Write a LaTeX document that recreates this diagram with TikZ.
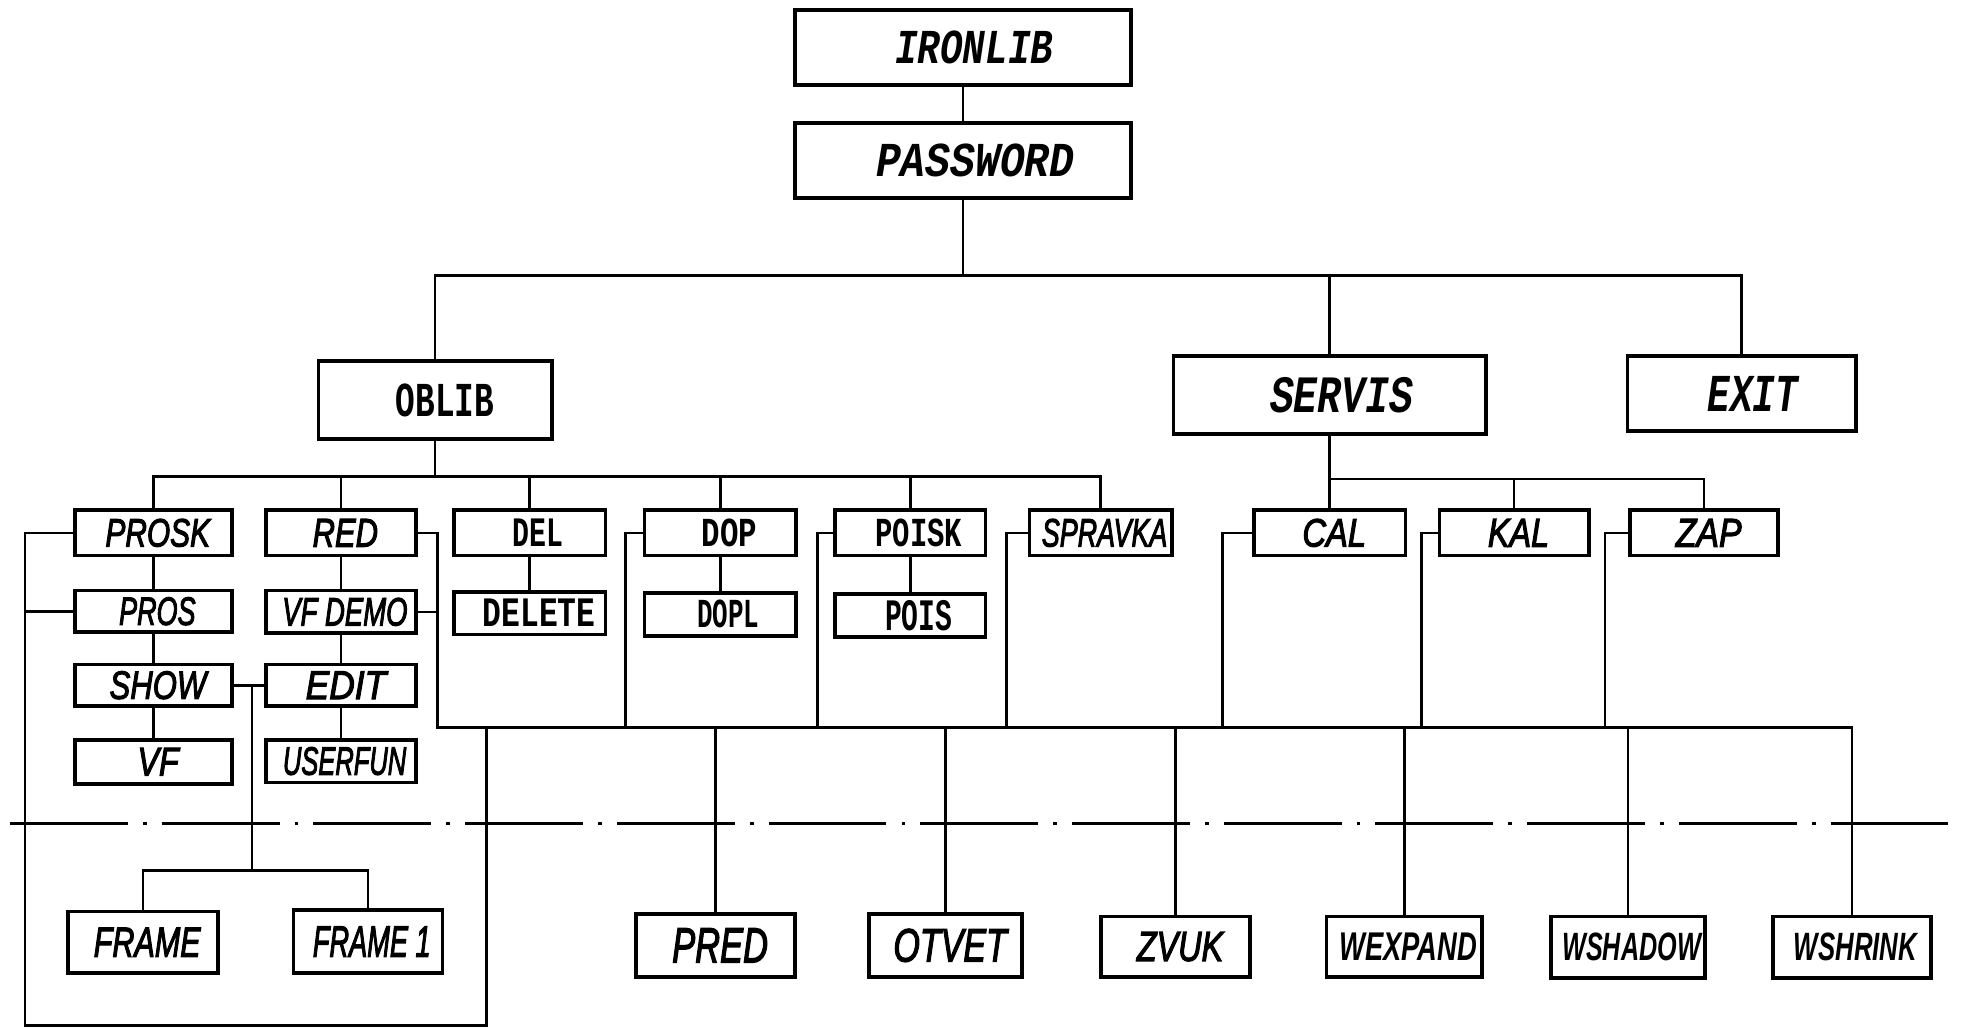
\documentclass[tikz,border=0pt]{standalone}
\usepackage{fontspec}
\setmainfont{Liberation Sans}
\newfontfamily\twf{Liberation Mono}
\newfontfamily\hndf{Liberation Sans Italic}[FakeBold=3]
\usepackage{graphicx}
\tikzset{
 box/.style={draw, line width=3pt, inner sep=0pt, rectangle},
 ln/.style={line width=2.2pt, line join=miter, line cap=rect},
 dashdot/.style={line width=2.6pt, dash pattern=on 94pt off 12pt on 3pt off 12pt},
}
\newcommand\hnd{\hndf}
\newcommand\typ{\twf\bfseries}
\newcommand\styp{\twf\bfseries\itshape}
\newcommand\bx[9]{\node[box, minimum width={#4-#2}, minimum height={#5-#3}] (#1) at ({(#2+#4)/2},{(#3+#5)/2}) {\resizebox{#6pt}{#7pt}{#8 #9}};}
\begin{document}
\begin{tikzpicture}[x=1pt,y=-1pt]
\useasboundingbox (0,0) rectangle (1568,820);
% top level
\bx{IRONLIB}{634}{8}{902}{68}{144}{26}{\styp}{IRONLIB}
\bx{PASSWORD}{634}{98}{902}{158}{178}{26}{\styp}{PASSWORD}
\bx{OBLIB}{254}{288}{440}{350}{94}{26}{\typ}{OBLIB}
\bx{SERVIS}{936}{284}{1185}{346}{133}{28}{\styp}{SERVIS}
\bx{EXIT}{1298}{284}{1480}{344}{90}{28}{\styp}{EXIT}
% row 1
\bx{PROSK}{60}{407}{185}{443}{90}{22}{\hnd}{PROSK}
\bx{RED}{212}{407}{332}{443}{59}{22}{\hnd}{RED}
\bx{DEL}{362}{407}{483}{443}{54}{22}{\typ}{DEL}
\bx{DOP}{514}{407}{635}{443}{59}{22}{\typ}{DOP}
\bx{POISK}{666}{407}{786}{443}{83}{22}{\typ}{POISK}
\bx{SPRAVKA}{821}{407}{935}{443}{106}{22}{\hnd}{SPRAVKA}
\bx{CAL}{1000}{407}{1121}{443}{58}{22}{\hnd}{CAL}
\bx{KAL}{1148}{407}{1267}{443}{56}{22}{\hnd}{KAL}
\bx{ZAP}{1300}{407}{1418}{443}{60}{22}{\hnd}{ZAP}
% row 2
\bx{PROS}{60}{471}{185}{504}{67}{22}{\hnd}{PROS}
\bx{VFDEMO}{212}{471}{332}{505}{106}{22}{\hnd}{VF DEMO}
\bx{DELETE}{362}{472}{483}{506}{105}{22}{\typ}{DELETE}
\bx{DOPL}{514}{473}{635}{507}{62}{22}{\typ}{DOPL}
\bx{POIS}{666}{474}{786}{508}{67}{24}{\typ}{POIS}
% row 3
\bx{SHOW}{60}{530}{185}{563}{84}{22}{\hnd}{SHOW}
\bx{EDIT}{212}{530}{332}{563}{72}{22}{\hnd}{EDIT}
% row 4
\bx{VF}{60}{590}{185}{625}{40}{22}{\hnd}{VF}
\bx{USERFUN}{212}{590}{332}{624}{104}{22}{\hnd}{USERFUN}
% bottom row
\bx{FRAME}{54}{727}{174}{776}{92}{23}{\hnd}{FRAME}
\bx{FRAMEA}{234}{726}{353}{776}{100}{24}{\hnd}{FRAME 1}
\bx{PRED}{507}{729}{634}{779}{84}{27}{\hnd}{PRED}
\bx{OTVET}{693}{729}{815}{779}{98}{26}{\hnd}{OTVET}
\bx{ZVUK}{878}{731}{997}{779}{76}{23}{\hnd}{ZVUK}
\bx{WEXPAND}{1058}{731}{1182}{779}{116}{22}{\bfseries\itshape}{WEXPAND}
\bx{WSHADOW}{1237}{731}{1360}{780}{116}{22}{\bfseries\itshape}{WSHADOW}
\bx{WSHRINK}{1414}{731}{1540}{780}{104}{22}{\bfseries\itshape}{WSHRINK}
% helper coordinates
\coordinate (mainbus) at (0,220);
\coordinate (obus) at (0,380);
\coordinate (sbus) at (0,382);
\coordinate (lbus) at (0,580);
\coordinate (fbus) at (0,694);
\coordinate (lbot) at (0,818);
\coordinate (cR) at (349,0);
\coordinate (cDOP) at (499,0);
\coordinate (cPOI) at (652,0);
\coordinate (cSPR) at (803,0);
\coordinate (cCAL) at (975,0);
\coordinate (cKAL) at (1134,0);
\coordinate (cZAP) at (1280,0);
\coordinate (cLoop) at (388,0);
\coordinate (cL) at (20,0);
\coordinate (cSE) at (201,0);
\coordinate (dl) at (8,657);
\coordinate (dr) at (1562,657);
% top connectors
\draw[ln] (IRONLIB) -- (PASSWORD);
\draw[ln] (PASSWORD.south) -- (PASSWORD.south |- mainbus);
\draw[ln] (OBLIB.north) |- (EXIT.north |- mainbus) -- (EXIT.north);
\draw[ln] (SERVIS.north) -- (SERVIS.north |- mainbus);
% OBLIB subtree
\draw[ln] (OBLIB.south) -- (OBLIB.south |- obus);
\draw[ln] (PROSK.north) |- (SPRAVKA.north |- obus) -- (SPRAVKA.north);
\foreach \n in {RED,DEL,DOP,POISK} \draw[ln] (\n.north) -- (\n.north |- obus);
\draw[ln] (PROSK) -- (PROS);
\draw[ln] (PROS) -- (SHOW);
\draw[ln] (SHOW) -- (VF);
\draw[ln] (RED) -- (VFDEMO);
\draw[ln] (VFDEMO) -- (EDIT);
\draw[ln] (EDIT) -- (USERFUN);
\draw[ln] (DEL) -- (DELETE);
\draw[ln] (DOP) -- (DOPL);
\draw[ln] (POISK) -- (POIS);
% SERVIS subtree
\draw[ln] (SERVIS.south) -- (CAL.north);
\draw[ln] (SERVIS.south |- sbus) -| (ZAP.north);
\draw[ln] (KAL.north) -- (KAL.north |- sbus);
% lower bus
\draw[ln] (RED.east) -| (cR |- lbus) -| (WSHRINK.north);
\draw[ln] (VFDEMO.east) -- (VFDEMO.east -| cR);
\draw[ln] (DOP.west) -| (cDOP |- lbus);
\draw[ln] (POISK.west) -| (cPOI |- lbus);
\draw[ln] (SPRAVKA.west) -| (cSPR |- lbus);
\draw[ln] (CAL.west) -| (cCAL |- lbus);
\draw[ln] (KAL.west) -| (cKAL |- lbus);
\draw[ln] (ZAP.west) -| (cZAP |- lbus);
\foreach \n in {PRED,OTVET,ZVUK,WEXPAND,WSHADOW} \draw[ln] (\n.north) -- (\n.north |- lbus);
% left loop
\draw[ln] (PROSK.west) -| (cL |- lbot) -| (cLoop |- lbus);
\draw[ln] (PROS.west) -- (PROS.west -| cL);
% SHOW / EDIT / FRAME
\draw[ln] (SHOW.east) -- (SHOW.east -| EDIT.west);
\draw[ln] (cSE |- SHOW.east) -- (cSE |- fbus);
\draw[ln] (FRAME.north) |- (FRAMEA.north |- fbus) -- (FRAMEA.north);
% dash-dot line
\draw[dashdot] (dl) -- (dr);
\end{tikzpicture}
\end{document}
